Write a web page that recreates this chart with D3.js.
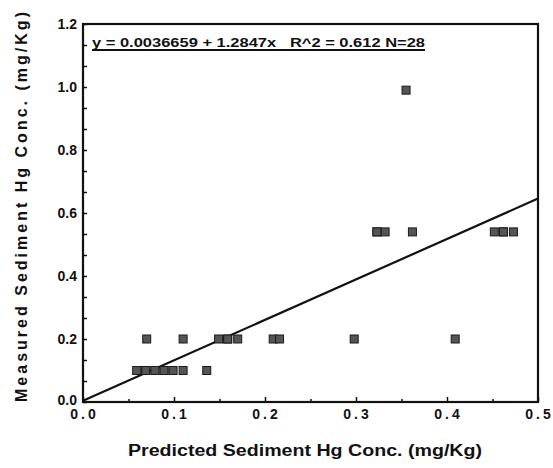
<!DOCTYPE html>
<html>
<head>
<meta charset="utf-8">
<script src="https://cdn.jsdelivr.net/npm/d3@7"></script>
<style>
  body { margin: 0; background: #fff; }
  svg text { font-family: "Liberation Sans", Arial, sans-serif; font-weight: bold; fill: #111; }
</style>
</head>
<body>
<svg id="chart" width="553" height="468"></svg>
<script>
// predicted (x) and measured (y) sediment Hg, mg/Kg
const predicted = [
  0.059, 0.069, 0.079, 0.089, 0.099, 0.110, 0.069, 0.089, 0.136,
  0.070, 0.110, 0.149, 0.159, 0.170, 0.159, 0.209, 0.216, 0.298, 0.409,
  0.323, 0.332, 0.323, 0.362, 0.452, 0.462, 0.473, 0.462,
  0.355
]
const measured = [
  0.10, 0.10, 0.10, 0.10, 0.10, 0.10, 0.10, 0.10, 0.10,
  0.20, 0.20, 0.20, 0.20, 0.20, 0.20, 0.20, 0.20, 0.20, 0.20,
  0.54, 0.54, 0.54, 0.54, 0.54, 0.54, 0.54, 0.54,
  0.99
]
const fit = { a: 0.0036659, b: 1.2847 }
const xTicks = [0, 0.1, 0.2, 0.3, 0.4, 0.5]
const yTicks = [0, 0.2, 0.4, 0.6, 0.8, 1.0, 1.2]
const eqLabel = "y = 0.0036659 + 1.2847x   R^2 = 0.612 N=28"

const svg = d3.select("#chart")
const x = d3.scaleLinear().domain([0, 0.5]).range([83, 538])
const y = d3.scaleLinear().domain([0, 1.2]).range([402, 24])

// frame
svg.append("rect")
  .attr("x", x(0)).attr("y", y(1.2))
  .attr("width", x(0.5) - x(0)).attr("height", y(0) - y(1.2))
  .attr("fill", "none").attr("stroke", "#111").attr("stroke-width", 2.2)

// bottom axis, ticks point into the plot
const xAxis = d3.axisTop(x).tickValues(d3.range(0, 0.501, 0.05)).tickSize(3).tickFormat("")
svg.append("g").attr("transform", `translate(0,${y(0)})`).call(xAxis)
  .call(g => g.select(".domain").remove())
  .selectAll("line").attr("stroke", "#111").attr("stroke-width", 1.5)
  .attr("y2", (d, i) => i % 2 ? -3 : -5)

svg.append("g").selectAll("text").data(xTicks).join("text")
  .attr("x", d => x(d) + 1.5).attr("y", 419)
  .attr("text-anchor", "middle")
  .style("font-size", "14px").style("letter-spacing", "3px")
  .text(d => d.toFixed(1))

// left axis, minor ticks every 1/3 of the interval
const yMinor = d3.range(0, 19).map(i => i * 0.2 / 3)
const yAxis = d3.axisRight(y).tickValues(yMinor).tickSize(4).tickFormat("")
svg.append("g").attr("transform", `translate(${x(0)},0)`).call(yAxis)
  .call(g => g.select(".domain").remove())
  .selectAll("line").attr("stroke", "#111").attr("stroke-width", 1.5)

svg.append("g").selectAll("text").data(yTicks).join("text")
  .attr("x", 77).attr("y", d => y(d) + (d === 0 ? 3 : 5))
  .attr("text-anchor", "end")
  .style("font-size", "14px")
  .text(d => d.toFixed(1))

// regression line
svg.append("line")
  .attr("x1", x(0)).attr("y1", y(fit.a))
  .attr("x2", x(0.5)).attr("y2", y(fit.a + fit.b * 0.5))
  .attr("stroke", "#111").attr("stroke-width", 2.2)

// points
svg.append("g").selectAll("rect").data(predicted).join("rect")
  .attr("x", (d, i) => x(d) - 4)
  .attr("y", (d, i) => y(measured[i]) - 4)
  .attr("width", 8).attr("height", 8)
  .attr("fill", "#555").attr("stroke", "#1a1a1a").attr("stroke-width", 1)

// equation, underlined
svg.append("text")
  .attr("x", 92).attr("y", 47)
  .attr("textLength", 333).attr("lengthAdjust", "spacingAndGlyphs")
  .style("font-size", "12px").style("white-space", "pre")
  .text(eqLabel)
svg.append("line")
  .attr("x1", 92).attr("x2", 425).attr("y1", 50).attr("y2", 50)
  .attr("stroke", "#111").attr("stroke-width", 1.8)

// axis titles
svg.append("text")
  .attr("x", 305).attr("y", 456)
  .attr("text-anchor", "middle")
  .attr("textLength", 354).attr("lengthAdjust", "spacingAndGlyphs")
  .style("font-size", "16px")
  .text("Predicted Sediment Hg Conc. (mg/Kg)")

svg.append("text")
  .attr("transform", "translate(27,207) rotate(-90)")
  .attr("text-anchor", "middle")
  .attr("textLength", 390).attr("lengthAdjust", "spacing")
  .style("font-size", "16px")
  .text("Measured Sediment Hg Conc. (mg/Kg)")
</script>
</body>
</html>
